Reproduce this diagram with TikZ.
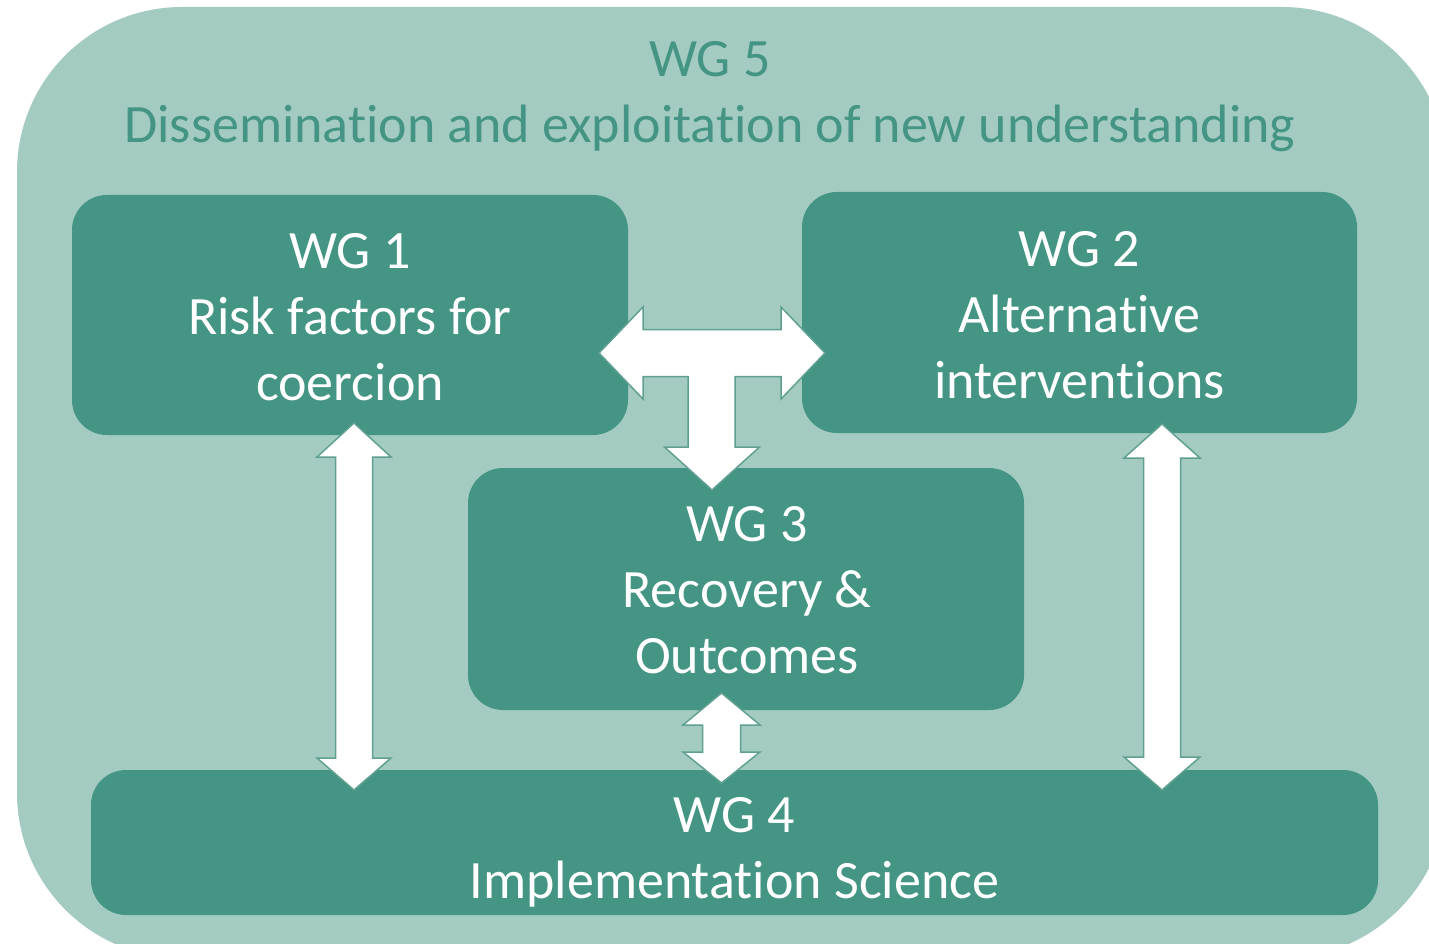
\documentclass[tikz,border=0pt]{standalone}
\usepackage{fontspec}
\setmainfont{Carlito}[RawFeature={-liga;-clig;-calt;-dlig}]
\definecolor{wgdark}{RGB}{68,149,131}
\definecolor{wglight}{RGB}{163,203,193}
\definecolor{arrowedge}{RGB}{96,160,144}
\begin{document}
\begin{tikzpicture}[x=1pt,y=-1pt,
  wgbox/.style={fill=wgdark, rounded corners=35pt, inner sep=0pt},
  wgtext/.style={inner sep=0pt, align=center, text=white, font=\fontsize{54}{66}\selectfont},
  blockarrow/.style={fill=white, draw=arrowedge, line width=1.5pt, line join=miter}]
\useasboundingbox (0,0) rectangle (1429,944);
\clip (0,0) rectangle (1429,944);
\fill[white] (0,0) rectangle (1429,944);
% outer WG5 area
\fill[wglight, rounded corners=165pt] (17,7) rectangle (1447,958);
\node[wgtext, text=wgdark] (wg5) at (710,96.5)
  {WG 5\\Dissemination and exploitation of new understanding};
% boxes
\node[wgbox, minimum width=556pt, minimum height=240pt] (wg1) at (350,315) {};
\node[wgtext] (wg1t) at (350,317) {WG 1\\Risk factors for\\coercion};
\node[wgbox, minimum width=555pt, minimum height=241pt] (wg2) at (1079.5,312.5) {};
\node[wgtext] (wg2t) at (1079.5,315.5) {WG 2\\Alternative\\interventions};
\node[wgbox, minimum width=556pt, minimum height=242pt] (wg3) at (746,589) {};
\node[wgtext] (wg3t) at (747,590) {WG 3\\Recovery \&\\Outcomes};
\node[wgbox, minimum width=1287pt, minimum height=145pt] (wg4) at (734.5,842.5) {};
\node[wgtext] (wg4t) at (734.5,852) {WG 4\\Implementation Science};
% arrows WG1 <-> WG4
\draw[blockarrow] (354,423) -- (391,457) -- (372.5,457) -- (372.5,758) -- (391,758)
  -- (354,790) -- (317,758) -- (335.5,758) -- (335.5,457) -- (317,457) -- cycle;
% arrows WG2 <-> WG4
\draw[blockarrow] (1162,424) -- (1200,458) -- (1180.5,458) -- (1180.5,757) -- (1200,757)
  -- (1162,790) -- (1124,757) -- (1143.5,757) -- (1143.5,458) -- (1124,458) -- cycle;
% T arrow WG1 <-> WG2, -> WG3
\draw[blockarrow] (599,353) -- (643,307) -- (643,329.5) -- (781,329.5) -- (781,307)
  -- (825,353) -- (781,399) -- (781,376.5) -- (735,376.5) -- (735,447) -- (759.5,447)
  -- (712,490) -- (664.5,447) -- (688,447) -- (688,376.5) -- (643,376.5) -- (643,399) -- cycle;
% small arrow WG3 <-> WG4
\draw[blockarrow] (721.5,693) -- (760,725) -- (740.5,725) -- (740.5,752) -- (760,752)
  -- (721.5,783) -- (683,752) -- (702.5,752) -- (702.5,725) -- (683,725) -- cycle;
\end{tikzpicture}
\end{document}
